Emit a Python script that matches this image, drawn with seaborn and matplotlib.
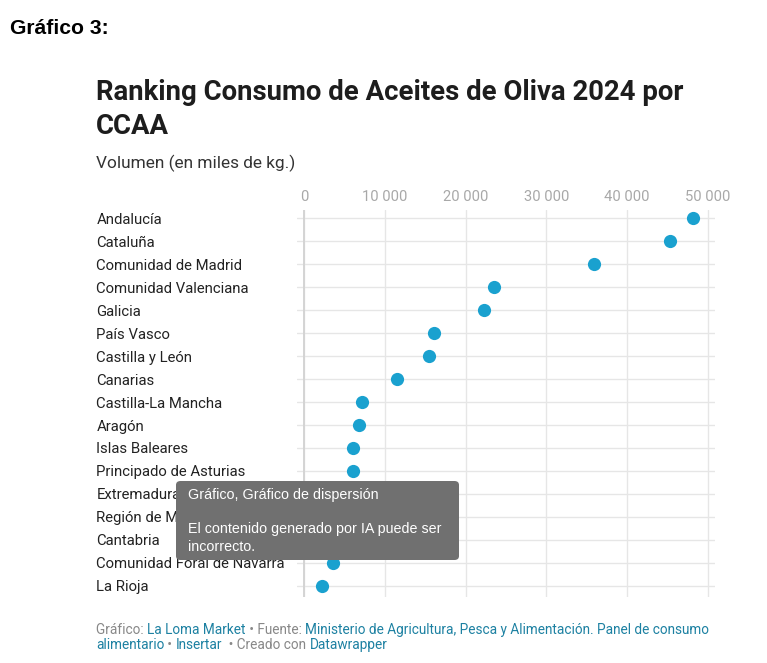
import matplotlib
matplotlib.use("Agg")
import matplotlib.pyplot as plt
import seaborn as sns
from matplotlib.patches import FancyBboxPatch

# datos (miles de kg)
ccaa = ["Andalucía", "Cataluña", "Comunidad de Madrid", "Comunidad Valenciana",
        "Galicia", "País Vasco", "Castilla y León", "Canarias",
        "Castilla-La Mancha", "Aragón", "Islas Baleares",
        "Principado de Asturias", "Extremadura", "Región de Murcia",
        "Cantabria", "Comunidad Foral de Navarra", "La Rioja"]
volumen = [48100, 45300, 35900, 23500, 22300, 16100, 15500, 11500,
           7200, 6800, 6100, 6100, 5200, 4800, 4000, 3600, 2200]
xticks = [0, 10000, 20000, 30000, 40000, 50000]
xtick_labels = ["0", "10 000", "20 000", "30 000", "40 000", "50 000"]

sns.set_style("white")
plt.rcParams["font.family"] = ["Roboto", "DejaVu Sans"]

W, H = 767, 663
fig = plt.figure(figsize=(W / 100, H / 100), dpi=100)

# ejes: px -> fraccion de figura
left, right, top, bottom = 297, 715, 210, 597
ax = fig.add_axes([left / W, 1 - bottom / H, (right - left) / W, (bottom - top) / H])

sns.stripplot(x=volumen, y=ccaa, jitter=False, size=9.5, color="#1aa1cf",
              linewidth=0, ax=ax, zorder=5)

ax.set_xlim(-870, 50870)
ax.set_ylim(16.48, -0.35)
ax.set_xticks(xticks)
ax.set_xticklabels(xtick_labels)
ax.xaxis.tick_top()
ax.tick_params(axis="x", length=0, pad=4.5, labelsize=10.6, labelcolor="#a8a8a8")
ax.tick_params(axis="y", length=0, pad=144.5, labelsize=10.7, labelcolor="#222222")
for lab in ax.get_yticklabels():
    lab.set_horizontalalignment("left")

for s in ax.spines.values():
    s.set_visible(False)
ax.grid(True, color="#e6e6e6", linewidth=1)
ax.set_axisbelow(True)
ax.axvline(0, color="#d4d4d4", linewidth=1.4, zorder=1)
ax.set_xlabel("")
ax.set_ylabel("")


def fx(px):
    return px / W


def fy(py):
    return 1 - py / H


fig.text(fx(10), fy(28), "Gráfico 3:", fontsize=15.2, fontweight="bold",
         family=["Liberation Sans", "DejaVu Sans"], va="center", color="#000000")
fig.text(fx(96), fy(92), "Ranking Consumo de Aceites de Oliva 2024 por",
         fontsize=19.8, fontweight="bold", va="center", color="#1d1d1d")
fig.text(fx(96), fy(126), "CCAA", fontsize=19.8, fontweight="bold",
         va="center", color="#1d1d1d")
fig.text(fx(96), fy(163), "Volumen (en miles de kg.)", fontsize=12.4,
         va="center", color="#333333")

# pie de grafico con tramos de colores
gray, blue = "#888888", "#1d81a2"
lines = [
    [("Gráfico: ", gray), ("La Loma Market", blue), (" • Fuente: ", gray),
     ("Ministerio de Agricultura, Pesca y Alimentación. Panel de consumo", blue)],
    [("alimentario", blue), (" • ", gray), ("Insertar", blue),
     ("  • Creado con ", gray), ("Datawrapper", blue)],
]
fig.canvas.draw()
renderer = fig.canvas.get_renderer()
for i, parts in enumerate(lines):
    x = fx(96)
    y = fy(630 + i * 15)
    for txt, col in parts:
        t = fig.text(x, y, txt, fontsize=9.8, color=col, va="center")
        bb = t.get_window_extent(renderer)
        x += bb.width / (W)

# recuadro superpuesto
box = FancyBboxPatch((fx(176), fy(560)), fx(459) - fx(176), fy(481) - fy(560),
                     boxstyle="round,pad=0,rounding_size=0.006",
                     transform=fig.transFigure, facecolor="#707070",
                     edgecolor="none", zorder=10)
fig.patches.append(box)
tip_font = ["Liberation Sans", "DejaVu Sans"]
fig.text(fx(188), fy(495), "Gráfico, Gráfico de dispersión", fontsize=10.3,
         color="white", va="center", family=tip_font, zorder=11)
fig.text(fx(188), fy(529), "El contenido generado por IA puede ser",
         fontsize=10.3, color="white", va="center", family=tip_font, zorder=11)
fig.text(fx(188), fy(547), "incorrecto.", fontsize=10.3, color="white",
         va="center", family=tip_font, zorder=11)

fig.savefig("out.png", dpi=100)
